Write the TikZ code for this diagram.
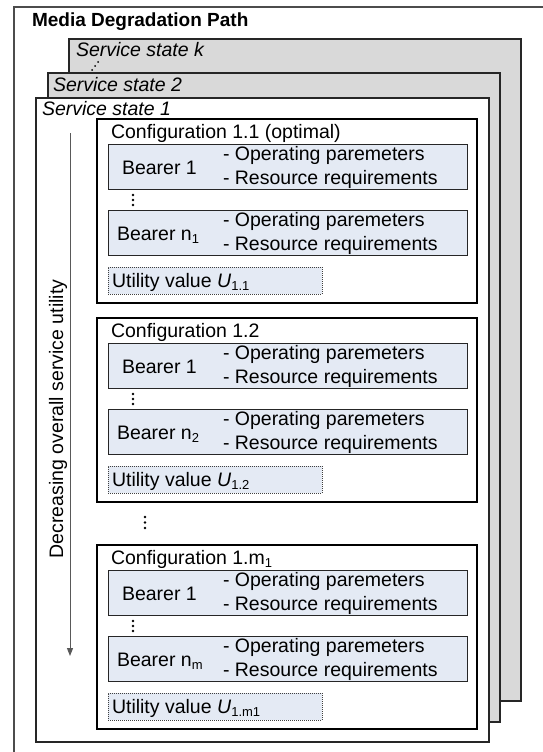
\documentclass[tikz,border=0pt]{standalone}
\usepackage{fontspec}
\setmainfont{Liberation Sans}
\usetikzlibrary{arrows.meta}
\definecolor{bluefill}{HTML}{E4EAF4}
\definecolor{stategray}{HTML}{D9D9D9}
\newcommand{\mysb}[1]{\raisebox{-0.35ex}{\fontsize{13}{13}\selectfont #1}}
\tikzset{
  x=1pt, y=-1pt,
  lbl/.style={anchor=base west, inner sep=0pt, outer sep=0pt, font=\fontsize{19.5}{23}\selectfont},
  statebox/.style={draw=black!85, line width=1.2pt, anchor=north west, inner sep=0pt, outer sep=0pt},
  confbox/.style={draw=black, line width=1.1pt, fill=white, anchor=north west, inner sep=0pt, outer sep=0pt, minimum width=380pt, minimum height=184pt},
  bearerbox/.style={draw=black!85, line width=1pt, fill=bluefill, anchor=north west, inner sep=0pt, outer sep=0pt, minimum width=359pt, minimum height=45pt},
  utilbox/.style={draw=black!75, line width=1pt, densely dotted, fill=bluefill, anchor=north west, inner sep=0pt, outer sep=0pt, minimum width=214pt, minimum height=27pt},
  outerframe/.style={draw=black!70, line width=1.4pt},
  arr/.style={draw=black!65, line width=1pt, -{Triangle[length=8pt,width=6pt]}},
  dotmark/.style={fill=black},
}
\newcommand{\confblock}[5]{%
  \node[confbox] (#1) at (97,#2) {};
  \node[lbl] (#1t) at (111,#2+19) {#3};
  \node[bearerbox] (#1ba) at (108,#2+25) {};
  \node[lbl] (#1ban) at (122,#2+25+30) {Bearer 1};
  \node[lbl] (#1bao) at (223,#2+25+16) {- Operating paremeters};
  \node[lbl] (#1bar) at (223,#2+25+40) {- Resource requirements};
  \fill[dotmark] (133,#2+76) circle (1.3);
  \fill[dotmark] (133,#2+81) circle (1.3);
  \fill[dotmark] (133,#2+86) circle (1.3);
  \node[bearerbox] (#1bn) at (108,#2+91) {};
  \node[lbl] (#1bnn) at (117,#2+91+30) {Bearer #4};
  \node[lbl] (#1bno) at (223,#2+91+16) {- Operating paremeters};
  \node[lbl] (#1bnr) at (223,#2+91+40) {- Resource requirements};
  \node[utilbox] (#1u) at (108,#2+148) {};
  \node[lbl] (#1ut) at (112,#2+148+20) {Utility value \textit{U}\mysb{#5}};
}
\begin{document}
\begin{tikzpicture}
\useasboundingbox (0,0) rectangle (542,752);
\fill[white] (0,0) rectangle (542,752);
% outer frame
\coordinate (ofb) at (14,753);
\coordinate (ofc) at (14,7);
\coordinate (ofr) at (543,7);
\draw[outerframe] (ofb) -- (ofc) -- (ofr);
\node[lbl, font=\fontsize{19}{23}\selectfont\bfseries] (title) at (32,27) {Media Degradation Path};
% service states
\node[statebox, fill=stategray, minimum width=452pt, minimum height=662pt] (sk) at (69,39) {};
\node[lbl, font=\fontsize{19.5}{23}\selectfont\itshape] (skt) at (76,57) {Service state k};
\fill[dotmark] (92,70) circle (1);
\fill[dotmark] (95,66) circle (1);
\fill[dotmark] (98,62) circle (1);
\node[statebox, fill=stategray, minimum width=452pt, minimum height=649pt] (s2) at (48,73) {};
\node[lbl, font=\fontsize{19.5}{23}\selectfont\itshape] (s2t) at (53,91) {Service state 2};
\node[statebox, fill=white, minimum width=453pt, minimum height=644pt] (s1) at (36,98) {};
\node[lbl, font=\fontsize{19.5}{23}\selectfont\itshape] (s1t) at (42,115) {Service state 1};
% arrow and label
\coordinate (arrS) at (70,133);
\coordinate (arrE) at (70,656);
\draw[arr] (arrS) -- (arrE);
\node[rotate=90, inner sep=0pt, font=\fontsize{19.5}{23}\selectfont] (declab) at (58,419) {Decreasing overall service utility};
% configurations
\confblock{ca}{119}{Configuration 1.1 (optimal)}{n\mysb{1}}{1.1}
\confblock{cb}{318}{Configuration 1.2}{n\mysb{2}}{1.2}
\fill[dotmark] (145,517) circle (1.3);
\fill[dotmark] (145,522.5) circle (1.3);
\fill[dotmark] (145,528) circle (1.3);
\confblock{cc}{545}{Configuration 1.m\mysb{1}}{n\mysb{m}}{1.m1}
\end{tikzpicture}
\end{document}
